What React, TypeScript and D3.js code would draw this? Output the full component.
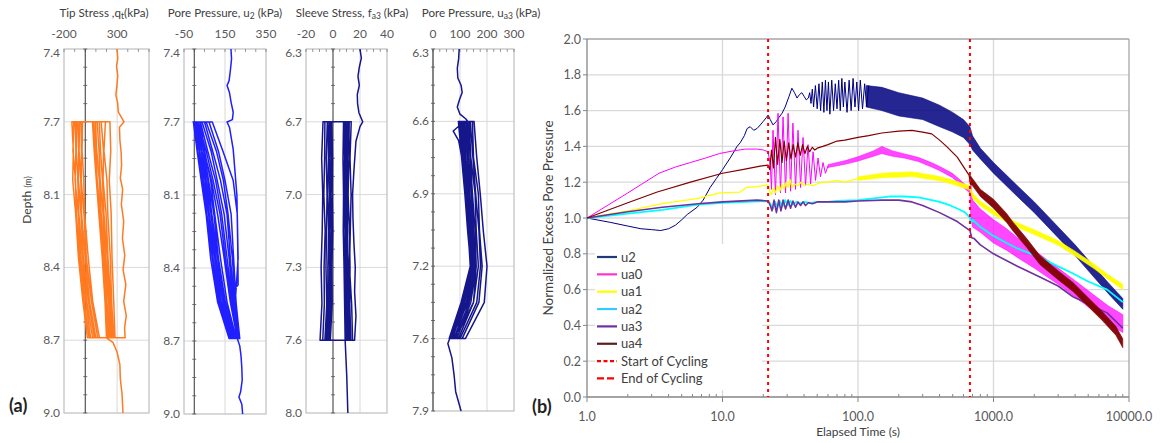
import React from "react";
import * as d3 from "d3";

type P = [number, number];
type B = [number, number, number];

// ================= Panel (a) data =================
// --- Tip stress q_t (kPa) ---
const tipDepthTicks = [7.4, 7.7, 8.1, 8.4, 8.7, 9.0];
const tipValueTicks = [-200, 300];
const tipGrid = [300];
const tipStations = [7.7, 7.86, 8.02, 8.18, 8.36, 8.54, 8.69];
const tipInitial: P[] = [
  [7.40, 300], [7.44, 306], [7.47, 294], [7.51, 306], [7.55, 298], [7.59, 288], [7.62, 304], [7.66, 312],
  [7.70, 365], [7.73, 322], [7.80, 326], [7.87, 338], [7.94, 342], [8.01, 330], [8.07, 352], [8.14, 340],
  [8.21, 362], [8.28, 350], [8.35, 372], [8.41, 356], [8.47, 382], [8.54, 362], [8.60, 386], [8.65, 370], [8.69, 376],
];
const tipDown = [
  [232, 240, 226, 244, 252, 268, 280],
  [190, 176, 204, 212, 236, 248, 268],
  [150, 172, 168, 196, 214, 240, 256],
  [132, 144, 162, 176, 206, 226, 250],
  [112, 130, 140, 168, 190, 220, 240],
  [96, 108, 132, 150, 184, 204, 228],
  [80, 98, 112, 142, 170, 198, 214],
  [68, 84, 104, 128, 160, 186, 200],
];
const tipUp = [
  [-126, -112, -118, -90, -64, -22, 20],
  [-108, -116, -92, -84, -50, -12, 36],
  [-96, -88, -96, -66, -42, 4, 50],
  [-82, -84, -70, -60, -26, 14, 70],
  [-70, -62, -64, -40, -18, 30, 86],
  [-54, -58, -42, -34, 0, 40, 100],
  [-40, -36, -38, -12, 10, 58, 118],
  [-26, -30, -14, -6, 28, 70, 134],
];
const tipFinal: P[] = [[8.69, 200], [8.71, 262], [8.75, 300], [8.80, 326], [8.86, 330], [8.92, 346], [9.0, 355]];

// --- Pore pressure u2 (kPa) ---
const u2DepthTicks = [7.4, 7.7, 8.1, 8.4, 8.7, 9.0];
const u2ValueTicks = [-50, 150, 350];
const u2Grid = [150];
const u2Stations = [7.7, 7.86, 8.02, 8.18, 8.36, 8.54, 8.69];
const u2Initial: P[] = [
  [7.40, 179], [7.44, 182], [7.49, 176], [7.53, 170], [7.55, 160], [7.58, 172], [7.62, 180], [7.66, 190],
  [7.69, 186], [7.70, 160], [7.73, 172], [7.85, 190], [8.10, 208], [8.30, 212], [8.47, 214], [8.49, 190],
  [8.56, 206], [8.69, 222],
];
const u2Down = [
  [88, 140, 190, 210, 214, 200, 222],
  [72, 118, 150, 180, 192, 204, 220],
  [58, 108, 142, 165, 186, 200, 219],
  [50, 90, 128, 160, 176, 196, 218],
  [38, 82, 112, 146, 170, 190, 216],
  [30, 66, 104, 134, 160, 186, 214],
  [20, 58, 92, 126, 152, 180, 212],
  [14, 48, 84, 114, 146, 176, 210],
];
const u2Up = [
  [30, 50, 80, 100, 128, 160, 205],
  [22, 46, 70, 96, 118, 152, 200],
  [18, 38, 66, 86, 114, 146, 195],
  [10, 34, 58, 82, 106, 140, 190],
  [8, 26, 52, 74, 100, 132, 185],
  [2, 24, 44, 70, 92, 126, 180],
  [0, 16, 40, 62, 88, 120, 175],
  [-4, 14, 34, 58, 80, 114, 170],
];
const u2Final: P[] = [[8.69, 210], [8.72, 222], [8.76, 228], [8.81, 232], [8.86, 234], [8.91, 226], [8.93, 218], [8.96, 232], [9.0, 236]];

// --- Sleeve stress f_a3 (kPa) ---
const fDepthTicks = [6.3, 6.7, 7.0, 7.3, 7.6, 8.0];
const fValueTicks = [-20, 0, 20, 40];
const fGrid = [20];
const fStations = [6.7, 6.85, 7.0, 7.15, 7.3, 7.45, 7.6];
const fInitial: P[] = [
  [6.30, 20], [6.35, 21], [6.40, 19.5], [6.45, 18.5], [6.50, 19.5], [6.55, 18], [6.60, 18.2], [6.65, 19.2],
  [6.70, 22], [6.72, 20], [6.78, 17], [6.90, 15.5], [7.00, 14.5], [7.10, 14.8], [7.20, 15.5], [7.30, 16.5],
  [7.40, 16], [7.50, 17], [7.60, 16],
];
const fDown = [
  [13.5, 12.6, 13.4, 12.8, 12.2, 13.8, 14.5],
  [12.0, 11.8, 11.2, 12.2, 12.6, 12.4, 13.2],
  [11.4, 10.6, 11.0, 10.6, 11.4, 11.8, 12.2],
  [10.4, 10.2, 9.8, 10.8, 10.4, 11.0, 11.6],
  [9.8, 9.6, 10.2, 9.6, 10.0, 10.4, 10.8],
  [9.2, 9.0, 9.2, 9.6, 9.2, 9.8, 10.2],
  [8.4, 8.6, 8.2, 8.8, 9.0, 9.2, 9.6],
  [7.8, 7.4, 7.8, 7.6, 8.2, 8.6, 9.0],
];
const fUp = [
  [-7.4, -8.4, -7.6, -8.0, -8.8, -8.2, -9.6],
  [-6.0, -6.2, -6.8, -5.8, -6.6, -6.4, -7.6],
  [-4.2, -5.0, -4.4, -4.8, -5.2, -4.6, -6.0],
  [-3.6, -3.4, -3.8, -3.2, -3.8, -3.8, -5.0],
  [-2.4, -2.8, -2.4, -2.8, -2.6, -2.8, -4.2],
  [-2.0, -1.6, -2.0, -1.6, -2.2, -1.8, -3.4],
  [-1.2, -1.4, -0.8, -1.2, -1.4, -1.0, -2.6],
  [-0.8, -0.4, -0.6, -0.2, -0.8, -0.6, -2.0],
];
const fFinal: P[] = [[7.60, 9.0], [7.70, 9.6], [7.80, 10.2], [7.90, 10.6], [8.0, 11]];

// --- Pore pressure u_a3 (kPa) ---
const ua3DepthTicks = [6.3, 6.6, 6.9, 7.2, 7.6, 7.9];
const ua3ValueTicks = [0, 100, 200, 300];
const ua3Grid = [100, 200];
const ua3Stations = [6.6, 6.75, 6.9, 7.05, 7.2, 7.4, 7.6];
const ua3Initial: P[] = [
  [6.30, 97], [6.34, 95], [6.38, 90], [6.42, 92], [6.45, 104], [6.48, 108], [6.51, 98], [6.54, 90],
  [6.57, 100], [6.59, 122], [6.60, 128], [6.62, 95], [6.64, 75], [6.68, 95], [6.80, 115], [7.00, 140],
  [7.20, 160], [7.40, 150], [7.55, 100], [7.60, 65],
];
const ua3Down = [
  [152, 162, 175, 186, 200, 190, 120],
  [146, 150, 168, 172, 182, 170, 108],
  [138, 148, 158, 170, 176, 162, 100],
  [134, 140, 156, 160, 168, 150, 94],
  [128, 138, 146, 156, 160, 140, 88],
  [124, 132, 142, 150, 156, 134, 82],
  [118, 128, 136, 146, 150, 126, 78],
  [114, 122, 132, 140, 146, 118, 72],
];
const ua3Up = [
  [100, 110, 122, 134, 146, 118, 70],
  [106, 116, 130, 138, 150, 124, 68],
  [110, 120, 128, 142, 154, 130, 66],
  [102, 114, 124, 136, 148, 116, 64],
  [98, 108, 120, 132, 142, 110, 62],
  [94, 106, 118, 128, 140, 106, 62],
  [100, 110, 124, 130, 138, 104, 60],
  [108, 118, 128, 140, 147, 114, 65],
];
const ua3Final: P[] = [[7.60, 62], [7.62, 55], [7.68, 70], [7.75, 78], [7.82, 84], [7.90, 104]];

// ================= Panel (b) data =================
const timeTicks = [1, 10, 100, 1000, 10000];
const nepTicks = [0, 0.2, 0.4, 0.6, 0.8, 1.0, 1.2, 1.4, 1.6, 1.8, 2.0];
const cycleStart = 21.7;
const cycleEnd = 670;

const u2Line: P[] = [
  [1, 1.0], [1.5, 0.975], [2, 0.955], [2.5, 0.94], [3, 0.935], [3.5, 0.93], [4, 0.94], [4.5, 0.96], [5, 0.99],
  [5.5, 1.02], [6.5, 1.06], [7.2, 1.1], [8.1, 1.17], [9, 1.22], [10, 1.27], [11.5, 1.34], [12.8, 1.4], [13.5, 1.42],
  [14.5, 1.46], [15.2, 1.5], [16, 1.51], [17, 1.49], [18, 1.5], [19, 1.52], [20, 1.54], [21, 1.56], [21.7, 1.575],
  [22.5, 1.55], [23.6, 1.52], [25, 1.54], [26, 1.56], [27.5, 1.585], [29, 1.62], [31, 1.68], [32.5, 1.725],
  [34, 1.7], [35.5, 1.67], [37, 1.69], [38.5, 1.7], [40, 1.68], [41.5, 1.66], [43, 1.67], [44, 1.7], [45, 1.64],
  [46, 1.72], [47, 1.62], [48.5, 1.74], [50, 1.61], [51.5, 1.75], [53, 1.6], [54.5, 1.76], [56, 1.59],
  [57.5, 1.77], [59, 1.6], [60.5, 1.76], [62, 1.58], [64, 1.77], [66, 1.6], [68, 1.75], [70, 1.61], [72, 1.77],
  [74, 1.6], [76, 1.78], [78, 1.62], [80, 1.76], [83, 1.59], [86, 1.77], [89, 1.6], [92, 1.78], [95, 1.62],
  [98, 1.76], [101, 1.6], [104, 1.77], [108, 1.61], [112, 1.75], [116, 1.62], [120, 1.74],
];
const u2Band: B[] = [
  [115, 1.62, 1.74], [150, 1.6, 1.73], [200, 1.57, 1.7], [300, 1.55, 1.67], [400, 1.51, 1.63], [500, 1.48, 1.59],
  [600, 1.45, 1.55], [670, 1.41, 1.51], [700, 1.38, 1.46], [800, 1.33, 1.39], [1000, 1.25, 1.31],
  [1500, 1.12, 1.18], [2000, 1.03, 1.09], [3000, 0.89, 0.95], [4000, 0.79, 0.85], [5500, 0.67, 0.73],
  [7000, 0.58, 0.64], [9000, 0.49, 0.55],
];

const ua0Line: P[] = [
  [1, 1.0], [2, 1.14], [3.4, 1.25], [4.5, 1.285], [5.8, 1.31], [7.5, 1.335], [9.5, 1.36], [12, 1.375],
  [14.8, 1.385], [18, 1.385], [20, 1.38], [21.7, 1.37], [22.5, 1.3], [23, 1.16], [23.6, 1.49], [24.6, 1.13],
  [25.7, 1.585], [26.8, 1.14], [28, 1.565], [29.2, 1.14], [30.5, 1.585], [31.8, 1.15], [33.1, 1.53], [34.6, 1.16],
  [36.1, 1.49], [37.7, 1.17], [39.3, 1.45], [41, 1.18], [42.8, 1.41], [44.7, 1.19], [46.6, 1.37], [48.6, 1.21],
  [50.7, 1.335], [52.9, 1.23], [55.2, 1.31], [57.5, 1.25], [60, 1.29],
];
const ua0Band: B[] = [
  [60, 1.282, 1.298], [80, 1.3, 1.32], [100, 1.318, 1.342], [130, 1.345, 1.375], [150, 1.36, 1.4],
  [180, 1.345, 1.375], [220, 1.335, 1.358], [280, 1.315, 1.338], [350, 1.285, 1.308], [400, 1.265, 1.288],
  [500, 1.225, 1.248], [600, 1.17, 1.195], [670, 1.14, 1.165], [680, 1.0, 1.2], [700, 0.95, 1.1], [800, 0.92, 1.05],
  [1000, 0.86, 0.99], [1250, 0.82, 0.94], [1500, 0.78, 0.89], [2000, 0.72, 0.82], [3000, 0.63, 0.72],
  [4000, 0.56, 0.65], [5500, 0.48, 0.57], [7000, 0.41, 0.51], [9000, 0.36, 0.46],
];

const ua1Line: P[] = [
  [1, 1.0], [2, 1.04], [3.6, 1.08], [6.6, 1.11], [9.5, 1.14], [13.5, 1.145], [15, 1.17], [18, 1.175], [21.7, 1.185],
  [22.3, 1.15], [23, 1.13], [23.8, 1.17], [24.6, 1.14], [25.5, 1.18], [26.5, 1.15], [27.5, 1.19], [28.5, 1.16],
  [29.5, 1.2], [30.5, 1.17], [31.5, 1.215], [32.5, 1.17], [34, 1.19], [36, 1.18], [38, 1.2], [40, 1.18],
  [43, 1.19], [46, 1.18], [50, 1.19], [55, 1.2], [60, 1.2], [70, 1.21], [80, 1.2], [100, 1.22],
];
const ua1Band: B[] = [
  [100, 1.21, 1.23], [150, 1.225, 1.25], [200, 1.228, 1.255], [250, 1.232, 1.258], [300, 1.222, 1.248],
  [400, 1.208, 1.232], [500, 1.188, 1.212], [600, 1.168, 1.192], [670, 1.158, 1.182], [700, 1.11, 1.14],
  [800, 1.068, 1.094], [1000, 1.018, 1.044], [1250, 0.978, 1.004], [1500, 0.948, 0.974], [2000, 0.908, 0.934],
  [3000, 0.848, 0.874], [4000, 0.788, 0.814], [5500, 0.718, 0.744], [7000, 0.658, 0.684], [9000, 0.6, 0.63],
];

const ua2Line: P[] = [
  [1, 1.0], [2, 1.025], [3.6, 1.045], [6.6, 1.075], [10, 1.085], [15, 1.09], [21.7, 1.095], [22.5, 1.08],
  [23.5, 1.05], [24.5, 1.09], [25.5, 1.06], [26.5, 1.095], [27.7, 1.065], [29, 1.1], [30.3, 1.07], [31.7, 1.095],
  [33, 1.075], [35, 1.09], [37, 1.08], [40, 1.09], [45, 1.085], [50, 1.09], [60, 1.09], [70, 1.095], [100, 1.1],
  [130, 1.11], [170, 1.12], [220, 1.12], [280, 1.115], [350, 1.1], [400, 1.09], [480, 1.07], [550, 1.05],
  [620, 1.03], [670, 1.0], [680, 0.97], [700, 0.99], [800, 0.95], [1000, 0.9], [1250, 0.86], [1500, 0.83],
  [2200, 0.78], [3000, 0.73], [3860, 0.69], [5000, 0.645], [6900, 0.6], [9000, 0.53],
];

const ua3Line: P[] = [
  [1, 1.0], [2, 1.035], [3.6, 1.06], [6.6, 1.08], [10, 1.09], [18, 1.1], [21.7, 1.095], [22.5, 1.07], [23.2, 1.04],
  [24, 1.1], [25, 1.03], [26, 1.1], [27, 1.04], [28, 1.1], [29.2, 1.05], [30.5, 1.1], [31.8, 1.055], [33.1, 1.095],
  [34.6, 1.06], [36.1, 1.09], [37.7, 1.07], [39.3, 1.09], [41, 1.07], [43, 1.085], [46, 1.08], [50, 1.09],
  [60, 1.09], [80, 1.09], [100, 1.095], [150, 1.1], [200, 1.1], [250, 1.09], [300, 1.07], [400, 1.03],
  [540, 0.98], [670, 0.93], [690, 0.89], [720, 0.885], [800, 0.85], [1000, 0.8], [1500, 0.73], [2200, 0.67],
  [3000, 0.62], [3860, 0.56], [5000, 0.52], [6900, 0.47], [9000, 0.385],
];

const ua4Line: P[] = [
  [1, 1.0], [2, 1.085], [3.3, 1.145], [5.8, 1.2], [10, 1.25], [14, 1.27], [19, 1.29], [21.7, 1.295], [22.3, 1.27],
  [23, 1.38], [23.8, 1.28], [24.6, 1.45], [25.5, 1.3], [26.5, 1.44], [27.5, 1.31], [28.5, 1.43], [29.6, 1.32],
  [30.8, 1.42], [32, 1.33], [33.2, 1.41], [34.6, 1.34], [36, 1.42], [37.5, 1.35], [39, 1.41], [40.6, 1.36],
  [42.3, 1.4], [44, 1.37], [46, 1.395], [48, 1.38], [50, 1.39], [55, 1.4], [60, 1.41], [70, 1.43], [80, 1.435],
  [100, 1.45], [120, 1.46], [150, 1.475], [200, 1.485], [250, 1.49], [300, 1.48], [350, 1.47], [400, 1.435],
  [450, 1.4], [540, 1.34], [620, 1.27], [660, 1.24], [670, 1.21],
];
const ua4Band: B[] = [
  [670, 1.19, 1.24], [700, 1.18, 1.22], [800, 1.12, 1.16], [1000, 1.055, 1.105], [1250, 0.975, 1.025],
  [1400, 0.925, 0.975], [1760, 0.835, 0.885], [2200, 0.74, 0.79], [3000, 0.655, 0.705], [3860, 0.59, 0.64],
  [5000, 0.505, 0.555], [6400, 0.425, 0.475], [8000, 0.345, 0.395], [9000, 0.275, 0.325],
];

const legendNames = ["u2", "ua0", "ua1", "ua2", "ua3", "ua4", "Start of Cycling", "End of Cycling"];

// ================= Layout / style =================
const FONT = "Lato, 'Open Sans', sans-serif";
const TICK_COLOR = "#595959";
const TITLE_COLOR = "#404040";
const GRID = "#d9d9d9";

type Layout = { x0: number; x1: number; top: number; bottom: number; domain: [number, number]; minorStep: number; titleX: number };

function Profile(props: {
  layout: Layout;
  title: React.ReactNode;
  depthTicks: number[];
  valueTicks: number[];
  grid: number[];
  stations: number[];
  initial: P[];
  down: number[][];
  up: number[][];
  final: P[];
  color: string;
}) {
  const { layout, title, depthTicks, valueTicks, grid, stations, initial, down, up, final, color } = props;
  const x = d3.scaleLinear().domain(layout.domain).range([layout.x0, layout.x1]);
  const step = (layout.bottom - layout.top) / (depthTicks.length - 1);
  const y = d3.scaleLinear().domain(depthTicks).range(depthTicks.map((_, i) => layout.top + i * step));
  const pts: P[] = [...initial];
  down.forEach((d, c) => {
    const u = up[c];
    for (let i = stations.length - 1; i >= 0; i--) pts.push([stations[i], u[i]]);
    for (let i = 0; i < stations.length; i++) pts.push([stations[i], d[i]]);
  });
  pts.push(...final);
  const line = d3.line<P>().x((p) => x(p[1])).y((p) => y(p[0]));
  const minorX = d3.range(layout.domain[0], layout.domain[1] + 1e-9, layout.minorStep);
  const minorY = d3.range(0, depthTicks.length - 1 + 1e-9, 0.25).map((f) => layout.top + f * step);
  const zx = x(0);
  return (
    <g>
      <text x={layout.titleX} y={17} textAnchor="middle" fontSize={11.6} fill={TITLE_COLOR}>
        {title}
      </text>
      {depthTicks.slice(1, -1).map((d) => (
        <line key={"h" + d} x1={layout.x0} x2={layout.x1} y1={y(d)} y2={y(d)} stroke={GRID} strokeWidth={1} />
      ))}
      {grid.map((g) => (
        <line key={"v" + g} x1={x(g)} x2={x(g)} y1={layout.top} y2={layout.bottom} stroke={GRID} strokeWidth={1} />
      ))}
      <rect x={layout.x0} y={layout.top} width={layout.x1 - layout.x0} height={layout.bottom - layout.top} fill="none" stroke="#bfbfbf" strokeWidth={1.2} />
      {minorX.map((m) => (
        <line key={"mt" + m} x1={x(m)} x2={x(m)} y1={layout.top} y2={layout.top + 3} stroke="#7f7f7f" strokeWidth={0.8} />
      ))}
      <line x1={zx} x2={zx} y1={layout.top} y2={layout.bottom} stroke="#333" strokeWidth={1} />
      {minorY.map((m, i) => (
        <line key={"my" + i} x1={zx - 2} x2={zx + 2} y1={m} y2={m} stroke="#555" strokeWidth={0.8} />
      ))}
      {valueTicks.map((v) => (
        <text key={"vt" + v} x={x(v)} y={38} textAnchor="middle" fontSize={12} fill={TICK_COLOR}>
          {v}
        </text>
      ))}
      {depthTicks.map((d, i) => (
        <text key={"dt" + d} x={layout.x0 - 4} y={y(d) + (i === 0 ? 8 : 4)} textAnchor="end" fontSize={12} fill={TICK_COLOR}>
          {d.toFixed(1)}
        </text>
      ))}
      <path d={line(pts) || ""} fill="none" stroke={color} strokeWidth={1.5} strokeLinejoin="round" />
    </g>
  );
}

function PanelB() {
  const L = 587, R = 1129, T = 39, Bt = 397;
  const x = d3.scaleLog().domain([1, 10000]).range([L, R]);
  const y = d3.scaleLinear().domain([0, 2]).range([Bt, T]);
  const line = d3.line<P>().x((p) => x(p[0])).y((p) => y(p[1]));
  const area = d3.area<B>().x((p) => x(p[0])).y0((p) => y(p[1])).y1((p) => y(p[2]));
  const minor: number[] = [];
  timeTicks.slice(0, -1).forEach((t) => d3.range(2, 10).forEach((k) => minor.push(t * k)));
  const fmt = d3.format(".1f");
  const series = [
    { line: u2Line, band: u2Band, color: "#000080", w: 1, op: 0.85 },
    { line: ua0Line, band: ua0Band, color: "#ff00ff", w: 1, op: 0.72 },
    { line: ua1Line, band: ua1Band, color: "#ffff00", w: 1.3, op: 0.95 },
    { line: ua2Line, band: null, color: "#00ffff", w: 1.8, op: 1 },
    { line: ua3Line, band: null, color: "#7030a0", w: 1.6, op: 1 },
    { line: ua4Line, band: ua4Band, color: "#800000", w: 1.2, op: 0.95 },
  ];
  const legendColors = ["#1f3a78", "#ff33cc", "#ffff00", "#33ccff", "#7030a0", "#5a1f1f"];
  const legTop = 257, legStep = 17.35;
  return (
    <g>
      {nepTicks.slice(1, -1).map((v) => (
        <line key={"gy" + v} x1={L} x2={R} y1={y(v)} y2={y(v)} stroke={GRID} strokeWidth={1.3} />
      ))}
      {timeTicks.slice(1, -1).map((t) => (
        <line key={"gx" + t} x1={x(t)} x2={x(t)} y1={T} y2={Bt} stroke={GRID} strokeWidth={1.3} />
      ))}
      <line x1={L} x2={R} y1={T} y2={T} stroke="#a6a6a6" strokeWidth={1.3} />
      <line x1={R} x2={R} y1={T} y2={Bt} stroke="#a6a6a6" strokeWidth={1.3} />
      <line x1={L} x2={L} y1={T} y2={Bt} stroke="#868686" strokeWidth={1.3} />
      <line x1={L} x2={R} y1={Bt} y2={Bt} stroke="#868686" strokeWidth={1.3} />
      {nepTicks.map((v) => (
        <g key={"ty" + v}>
          <line x1={L - 4} x2={L} y1={y(v)} y2={y(v)} stroke="#868686" />
          <text x={L - 6} y={y(v) + 4.5} textAnchor="end" fontSize={12.5} fill={TICK_COLOR}>
            {fmt(v)}
          </text>
        </g>
      ))}
      {timeTicks.map((t) => (
        <g key={"tx" + t}>
          <line x1={x(t)} x2={x(t)} y1={Bt} y2={Bt + 5} stroke="#868686" />
          <text x={x(t)} y={Bt + 24} textAnchor="middle" fontSize={12.5} fill={TICK_COLOR}>
            {fmt(t)}
          </text>
        </g>
      ))}
      {minor.map((t) => (
        <line key={"mx" + t} x1={x(t)} x2={x(t)} y1={Bt - 3} y2={Bt} stroke="#868686" />
      ))}
      {series.map((s, i) => (
        <g key={"s" + i}>
          <path d={line(s.line) || ""} fill="none" stroke={s.color} strokeWidth={s.w} strokeLinejoin="round" />
          {s.band && <path d={area(s.band) || ""} fill={s.color} fillOpacity={s.op} stroke={s.color} strokeWidth={0.8} strokeOpacity={0.7} />}
        </g>
      ))}
      {[cycleStart, cycleEnd].map((t) => (
        <line key={"cy" + t} x1={x(t)} x2={x(t)} y1={T} y2={Bt} stroke="#ff0000" strokeWidth={2} strokeDasharray="3,4" />
      ))}
      <rect x={595} y={244} width={167} height={146} fill="#ffffff" />
      {legendNames.map((n, i) => {
        const ly = legTop + i * legStep;
        const isCyc = i >= 6;
        return (
          <g key={"lg" + n}>
            <line
              x1={597}
              x2={617}
              y1={ly}
              y2={ly}
              stroke={isCyc ? "#ff0000" : legendColors[i]}
              strokeWidth={2.2}
              strokeDasharray={i === 6 ? "4,2.5" : i === 7 ? "7,3" : undefined}
            />
            <text x={621} y={ly + 4.5} fontSize={13} fill={TITLE_COLOR}>
              {n}
            </text>
          </g>
        );
      })}
      <text x={(L + R) / 2} y={436} textAnchor="middle" fontSize={12} fill={TITLE_COLOR}>
        Elapsed Time (s)
      </text>
      <text transform={`translate(553,${(T + Bt) / 2}) rotate(-90)`} textAnchor="middle" fontSize={13.5} fill={TITLE_COLOR}>
        Normalized Excess Pore Pressure
      </text>
      <text x={532} y={413} fontSize={18} fontWeight="bold" fill="#222">
        (b)
      </text>
    </g>
  );
}

export default function App() {
  const sub = (s: string) => (
    <tspan fontSize={8.5} dy={2}>
      {s}
    </tspan>
  );
  return (
    <svg width={1161} height={443} style={{ position: "absolute", left: 0, top: 0, fontFamily: FONT }}>
      <rect x={0} y={0} width={1161} height={443} fill="#ffffff" />
      <Profile
        layout={{ x0: 64, x1: 149, top: 49, bottom: 413, domain: [-200, 600], minorStep: 100, titleX: 104 }}
        title={<>Tip Stress ,q{sub("t")}<tspan dy={-2}>(kPa)</tspan></>}
        depthTicks={tipDepthTicks}
        valueTicks={tipValueTicks}
        grid={tipGrid}
        stations={tipStations}
        initial={tipInitial}
        down={tipDown}
        up={tipUp}
        final={tipFinal}
        color="#ff7a21"
      />
      <Profile
        layout={{ x0: 184, x1: 266, top: 49, bottom: 414, domain: [-50, 350], minorStep: 50, titleX: 225 }}
        title={<>Pore Pressure, u{sub("2")}<tspan dy={-2}> (kPa)</tspan></>}
        depthTicks={u2DepthTicks}
        valueTicks={u2ValueTicks}
        grid={u2Grid}
        stations={u2Stations}
        initial={u2Initial}
        down={u2Down}
        up={u2Up}
        final={u2Final}
        color="#1f1fff"
      />
      <Profile
        layout={{ x0: 306, x1: 387, top: 49, bottom: 413, domain: [-20, 40], minorStep: 5, titleX: 352 }}
        title={<>Sleeve Stress, f{sub("a3")}<tspan dy={-2}> (kPa)</tspan></>}
        depthTicks={fDepthTicks}
        valueTicks={fValueTicks}
        grid={fGrid}
        stations={fStations}
        initial={fInitial}
        down={fDown}
        up={fUp}
        final={fFinal}
        color="#16168c"
      />
      <Profile
        layout={{ x0: 433, x1: 514, top: 49, bottom: 411, domain: [0, 300], minorStep: 25, titleX: 481 }}
        title={<>Pore Pressure, u{sub("a3")}<tspan dy={-2}> (kPa)</tspan></>}
        depthTicks={ua3DepthTicks}
        valueTicks={ua3ValueTicks}
        grid={ua3Grid}
        stations={ua3Stations}
        initial={ua3Initial}
        down={ua3Down}
        up={ua3Up}
        final={ua3Final}
        color="#16168c"
      />
      <text transform="translate(31,200) rotate(-90)" textAnchor="middle" fontSize={12} fill={TITLE_COLOR}>
        Depth <tspan fontSize={8.5}>(m)</tspan>
      </text>
      <text x={9} y={412} fontSize={18} fontWeight="bold" fill="#222">
        (a)
      </text>
      <PanelB />
    </svg>
  );
}
